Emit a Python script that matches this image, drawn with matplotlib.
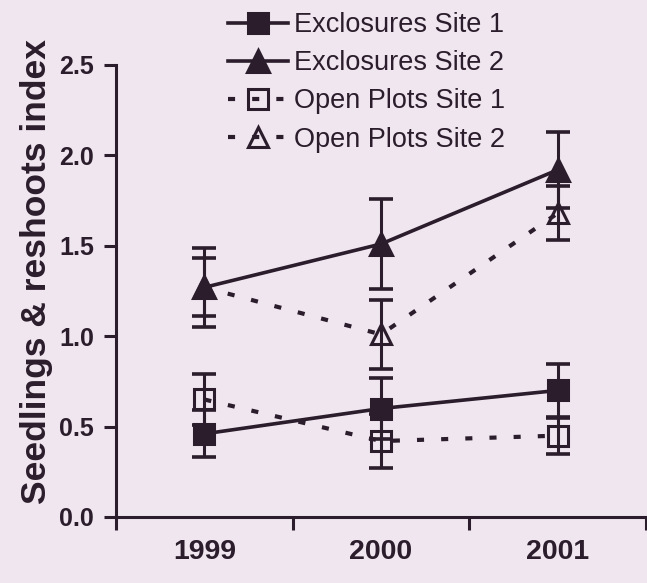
import matplotlib
matplotlib.use('Agg')
import matplotlib.pyplot as plt
import numpy as np
from matplotlib.ticker import FixedLocator
from matplotlib.legend_handler import HandlerLine2D

plt.rcParams['font.family'] = ['Liberation Sans', 'DejaVu Sans']

# ---- data ----
years = ['1999', '2000', '2001']
excl_site1 = [0.46, 0.60, 0.70]
excl_site1_err = [0.13, 0.17, 0.145]
excl_site2 = [1.27, 1.51, 1.92]
excl_site2_err = [0.22, 0.25, 0.21]
open_site1 = [0.65, 0.42, 0.45]
open_site1_err = [0.14, 0.15, 0.10]
open_site2 = [1.27, 1.01, 1.68]
open_site2_err = [0.16, 0.19, 0.15]
series_labels = ['Exclosures Site 1', 'Exclosures Site 2',
                 'Open Plots Site 1', 'Open Plots Site 2']
ytick_values = [0.0, 0.5, 1.0, 1.5, 2.0, 2.5]

# ---- style ----
bg = '#efe6f0'
dark = '#2b1d2b'
lw = 2.2


class OffsetMarkerHandler(HandlerLine2D):
    def __init__(self, frac, **kw):
        super().__init__(**kw)
        self.frac = frac

    def get_xdata(self, legend, xdescent, ydescent, width, height, fontsize):
        xdata = np.array([-xdescent, -xdescent + width])
        xm = np.array([-xdescent + width * self.frac])
        return xdata, xm


fig = plt.figure(figsize=(6.47, 5.83), dpi=100, facecolor=bg)
ax = fig.add_axes([116/647, 66/583, 530/647, 452/583], facecolor=bg)

x = np.arange(len(years))

series = [
    (open_site1, open_site1_err, series_labels[2], 'dash', 's', 'none', 14),
    (open_site2, open_site2_err, series_labels[3], 'dash', '^', 'none', 15),
    (excl_site1, excl_site1_err, series_labels[0], '-', 's', dark, 15),
    (excl_site2, excl_site2_err, series_labels[1], '-', '^', dark, 16),
]
handles = {}
for y, err, lab, ls, mk, mfc, ms in series:
    ax.errorbar(x, y, yerr=err, fmt='none', ecolor=dark, elinewidth=lw,
                capsize=8.5, capthick=2.6, clip_on=False)
    if ls == 'dash':
        line, = ax.plot(x, y, color=dark, lw=3.0, ls=(0, (1.7, 4.1)),
                        dash_capstyle='butt', marker=mk, ms=ms, mfc=mfc,
                        mec=dark, mew=2.2, label=lab, clip_on=False)
    else:
        line, = ax.plot(x, y, color=dark, lw=2.6, ls='-', marker=mk, ms=ms,
                        mfc=mfc, mec=dark, mew=2.2, label=lab, clip_on=False)
    handles[lab] = line

ax.set_xlim(-0.5, 2.5)
ax.set_ylim(0, 2.5)

ax.set_xticks(x)
ax.set_xticklabels(years, fontsize=20.5, fontweight='bold', color=dark)
ax.tick_params(axis='x', which='major', length=0, pad=16)
ax.xaxis.set_minor_locator(FixedLocator([-0.5, 0.5, 1.5, 2.5]))
ax.tick_params(axis='x', which='minor', length=9, width=lw, direction='out',
               color=dark)

ax.set_yticks(ytick_values)
ax.set_yticklabels(['%.1f' % v for v in ytick_values], fontsize=18,
                   fontweight='bold', color=dark)
ax.tick_params(axis='y', length=9, width=lw, pad=7, color=dark,
               direction='out')

for s in ['top', 'right']:
    ax.spines[s].set_visible(False)
for s in ['left', 'bottom']:
    ax.spines[s].set_linewidth(lw)
    ax.spines[s].set_color(dark)

fig.text(37/647, 1 - 272/583, 'Seedlings & reshoots index', rotation=90,
         ha='center', va='center', fontsize=25.5, fontweight='bold', color=dark)

hmap = {handles[series_labels[0]]: OffsetMarkerHandler(0.3),
        handles[series_labels[1]]: OffsetMarkerHandler(0.3),
        handles[series_labels[2]]: OffsetMarkerHandler(0.5),
        handles[series_labels[3]]: OffsetMarkerHandler(0.5)}
leg = fig.legend([handles[l] for l in series_labels], series_labels,
                 loc='upper left', bbox_to_anchor=(228/647, 1 - 12/583),
                 frameon=False, fontsize=19.5, handlelength=2.2,
                 handletextpad=0.24, labelspacing=0.45, borderaxespad=0,
                 borderpad=0, handler_map=hmap)
for t in leg.get_texts():
    t.set_color(dark)

fig.savefig('out.png', dpi=100, facecolor=bg)
